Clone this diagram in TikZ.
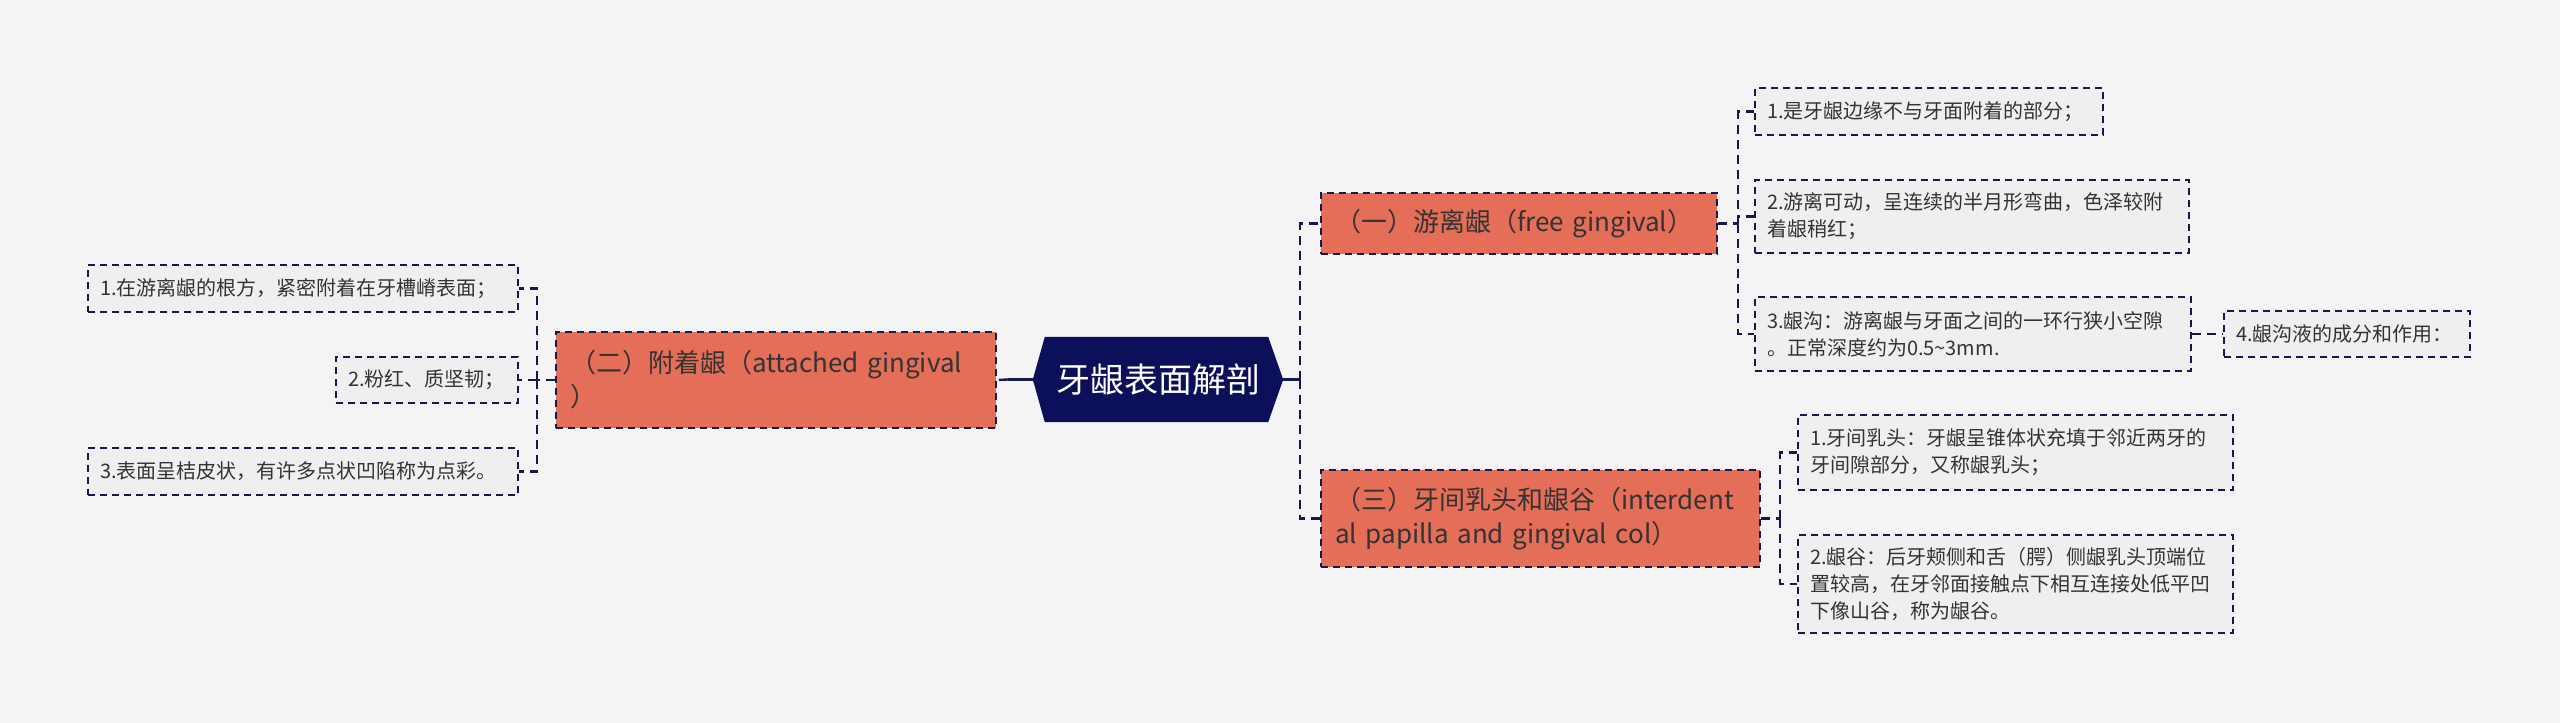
\documentclass[tikz,border=0pt]{standalone}
\usepackage{fontspec}
\setmainfont{Noto Sans CJK SC}
\usetikzlibrary{calc}
\definecolor{bg}{HTML}{F4F4F4}
\definecolor{navy}{HTML}{0C0F5A}
\definecolor{linec}{HTML}{17194A}
\definecolor{orangef}{HTML}{E46E58}
\definecolor{leaff}{HTML}{EFEFEF}
\definecolor{txt}{HTML}{333333}
\begin{document}
\begin{tikzpicture}[x=1pt,y=-1pt,
  leaf/.style={draw=linec, fill=leaff, dash pattern=on 7pt off 5pt, line width=2pt,
    inner xsep=12pt, inner ysep=0pt, font=\fontsize{20}{27}\selectfont, text=txt, align=left},
  mainbox/.style={draw=linec, fill=orangef, dash pattern=on 7pt off 5pt, line width=2pt,
    inner xsep=14pt, inner ysep=0pt, font=\fontsize{26}{34}\selectfont, text=txt, align=left},
  conn/.style={draw=linec, line width=2.4pt, dash pattern=on 9pt off 6pt},
  rootconn/.style={draw=linec, line width=2.6pt}
]
\fill[bg] (0,0) rectangle (2560,723);
\useasboundingbox (0,0) rectangle (2560,723);

% root
\node[minimum width=250pt, minimum height=85pt, inner sep=0pt, text=white,
  font=\fontsize{34}{40}\selectfont] (root) at (1158,379.5) {};
\fill[navy] (root.west) -- ([xshift=12pt]root.north west) -- ([xshift=-15pt]root.north east)
  -- (root.east) -- ([xshift=-15pt]root.south east) -- ([xshift=12pt]root.south west) -- cycle;
\node[text=white, font=\fontsize{34}{40}\selectfont] (roottext) at (root.center) {牙龈表面解剖};

% main boxes
\node[mainbox, text width=412pt, minimum height=96pt] (att) at (776,380)
  {（二）附着龈（attached gingival\\）};
\node[mainbox, text width=368pt, minimum height=61pt] (free) at (1519,223.5)
  {（一）游离龈（free gingival）};
\node[mainbox, text width=411pt, minimum height=97pt] (inter) at (1540.5,518.5)
  {（三）牙间乳头和龈谷（interdent\\al papilla and gingival col）};

% left leaves
\node[leaf, text width=406pt, minimum height=47pt] (l1) at (303,288.5)
  {1.在游离龈的根方，紧密附着在牙槽嵴表面；};
\node[leaf, text width=158pt, minimum height=46pt] (l2) at (427,380)
  {2.粉红、质坚韧；};
\node[leaf, text width=406pt, minimum height=47pt] (l3) at (303,471.5)
  {3.表面呈桔皮状，有许多点状凹陷称为点彩。};

% free gingival leaves
\node[leaf, text width=324pt, minimum height=47pt] (f1) at (1929,111.5)
  {1.是牙龈边缘不与牙面附着的部分；};
\node[leaf, text width=410pt, minimum height=73pt] (f2) at (1972,216.5)
  {2.游离可动，呈连续的半月形弯曲，色泽较附\\着龈稍红；};
\node[leaf, text width=412pt, minimum height=74pt] (f3) at (1973,334)
  {3.龈沟：游离龈与牙面之间的一环行狭小空隙\\。正常深度约为0.5\textasciitilde 3mm.};
\node[leaf, text width=222pt, minimum height=46pt] (f4) at (2347,334)
  {4.龈沟液的成分和作用：};

% interdental leaves
\node[leaf, text width=411pt, minimum height=75pt] (i1) at (2015.5,452.5)
  {1.牙间乳头：牙龈呈锥体状充填于邻近两牙的\\牙间隙部分，又称龈乳头；};
\node[leaf, text width=411pt, minimum height=98pt] (i2) at (2015.5,584)
  {2.龈谷：后牙颊侧和舌（腭）侧龈乳头顶端位\\置较高，在牙邻面接触点下相互连接处低平凹\\下像山谷，称为龈谷。};

% connectors
\draw[rootconn] (root.west) -- ++(-25,0) coordinate (rw);
\draw[conn] (rw) -- (att.east);
\draw[rootconn] (root.east) -- ++(17,0) coordinate (rj);
\draw[conn] (rj) |- (free.west);
\draw[conn] (rj) |- (inter.west);

\draw[conn] (att.west) -- ++(-18,0) coordinate (aj);
\draw[conn] (aj) |- (l1.east);
\draw[conn] (aj) -- (l2.east);
\draw[conn] (aj) |- (l3.east);

\draw[conn] (free.east) -- ++(20,0) coordinate (fj);
\draw[conn] (fj) |- (f1.west);
\draw[conn] (fj) |- (f2.west);
\draw[conn] (fj) |- (f3.west);
\draw[conn] (f3.east) -- (f4.west);

\draw[conn] (inter.east) -- ++(19,0) coordinate (ij);
\draw[conn] (ij) |- (i1.west);
\draw[conn] (ij) |- (i2.west);
\end{tikzpicture}
\end{document}
